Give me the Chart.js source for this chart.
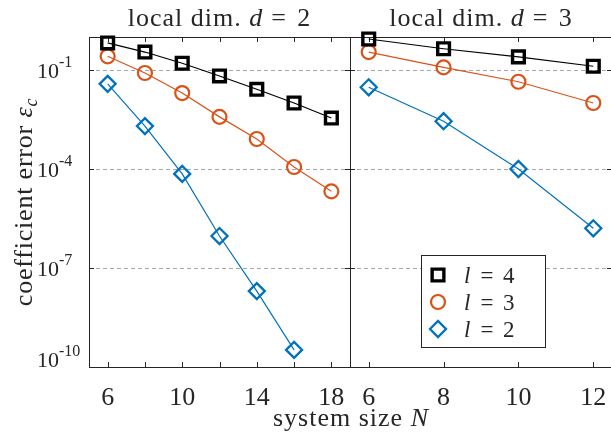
<!DOCTYPE html>
<html>
<head>
<meta charset="utf-8">
<script src="https://cdn.jsdelivr.net/npm/chart.js@4.4.0/dist/chart.umd.min.js"></script>
<style>
html, body { margin: 0; padding: 0; background: #fff; overflow: hidden; width: 611px; height: 434px; }
#wrap { position: relative; width: 611px; height: 434px; }
#c1 { position: absolute; left: 0; top: 0; }
#c2 { position: absolute; left: 350px; top: 0; }
#xl { position: absolute; left: 0; top: 405px; width: 702px; text-align: center;
      font: 26px "Liberation Serif", serif; color: #262626; letter-spacing: 1px; line-height: 26px; }
</style>
</head>
<body>
<div id="wrap">
  <canvas id="c1" width="351" height="434"></canvas>
  <canvas id="c2" width="270" height="434"></canvas>
  <div id="xl">system size <i>N</i></div>
</div>
<script>
// data
const sizesD2 = [6, 8, 10, 12, 14, 16, 18];
const sizesD3 = [6, 8, 10, 12];
const errD2L4 = [6.6e-1, 3.5e-1, 1.6e-1, 6.6e-2, 2.6e-2, 1.0e-2, 3.5e-3];
const errD2L3 = [2.6e-1, 8.1e-2, 2.0e-2, 3.8e-3, 8.1e-4, 1.15e-4, 2.1e-5];
const errD2L2 = [3.8e-2, 2.0e-3, 7.1e-5, 9.3e-7, 2.0e-8, 3.3e-10];
const errD3L4 = [8.7e-1, 4.4e-1, 2.5e-1, 1.3e-1];
const errD3L3 = [3.5e-1, 1.2e-1, 4.4e-2, 1.0e-2];
const errD3L2 = [3.0e-2, 2.8e-3, 1.0e-4, 1.6e-6];
const lValues = ['4', '3', '2'];
const localDims = ['2', '3'];
const yTickValues = [1e-10, 1e-7, 1e-4, 1e-1];
const yTickExps = ['-10', '-7', '-4', '-1'];
const xTicksD2 = [6, 8, 10, 12, 14, 16, 18];
const xLabelsD2 = [6, 10, 14, 18];
const xTicksD3 = [6, 8, 10, 12];
const xLabelsD3 = [6, 8, 10, 12];

// look
const AXIS = '#262626';
const FONT = '"Liberation Serif", serif';
const MARKS = [
  { color: '#000000', pointStyle: 'rect', radius: 8.3, width: 3.4 },
  { color: '#D95319', pointStyle: 'circle', radius: 7, width: 2.2 },
  { color: '#0072BD', pointStyle: 'rectRot', radius: 8, width: 2.3 }
];

function drawRich(ctx, parts, x, y, align) {
  let total = 0;
  parts.forEach(p => {
    ctx.font = (p.it ? 'italic ' : '') + p.size + 'px ' + FONT;
    p.w = ctx.measureText(p.t).width + (p.gap || 0);
    total += p.w;
  });
  let cx = align === 'center' ? x - total / 2 : x;
  parts.forEach(p => {
    ctx.font = (p.it ? 'italic ' : '') + p.size + 'px ' + FONT;
    ctx.fillText(p.t, cx, y + (p.dy || 0));
    cx += p.w;
  });
}

function marker(ctx, m, x, y) {
  ctx.save();
  ctx.strokeStyle = m.color;
  ctx.lineWidth = m.width;
  ctx.beginPath();
  if (m.pointStyle === 'rect') {
    const s = m.radius * Math.SQRT1_2;
    ctx.rect(x - s, y - s, 2 * s, 2 * s);
  } else if (m.pointStyle === 'circle') {
    ctx.arc(x, y, m.radius, 0, Math.PI * 2);
  } else {
    ctx.moveTo(x - m.radius, y);
    ctx.lineTo(x, y - m.radius);
    ctx.lineTo(x + m.radius, y);
    ctx.lineTo(x, y + m.radius);
    ctx.closePath();
  }
  ctx.stroke();
  ctx.restore();
}

// box + inward ticks + panel title
const framePlugin = {
  id: 'frame',
  beforeDatasetsDraw(chart) {
    const { ctx, chartArea: a, scales: { x, y } } = chart;
    ctx.save();
    ctx.strokeStyle = AXIS;
    ctx.lineWidth = 1;
    ctx.strokeRect(a.left + 0.5, a.top + 0.5, a.right - a.left, a.bottom - a.top);
    ctx.beginPath();
    x.ticks.forEach(t => {
      const px = Math.round(x.getPixelForValue(t.value)) + 0.5;
      ctx.moveTo(px, a.bottom); ctx.lineTo(px, a.bottom - 5);
      ctx.moveTo(px, a.top); ctx.lineTo(px, a.top + 5);
    });
    y.ticks.forEach(t => {
      const py = Math.round(y.getPixelForValue(t.value)) + 0.5;
      ctx.moveTo(a.left, py); ctx.lineTo(a.left + 5, py);
      ctx.moveTo(a.right, py); ctx.lineTo(a.right - 5, py);
    });
    ctx.stroke();
    ctx.restore();
  },
  afterDraw(chart) {
    const { ctx, chartArea: a } = chart;
    const o = chart.options.plugins.frame;
    ctx.save();
    ctx.fillStyle = AXIS;
    ctx.textBaseline = 'alphabetic';
    ctx.letterSpacing = '1px';
    drawRich(ctx, [
      { t: 'local dim. ', size: 26 },
      { t: 'd', it: true, size: 26, gap: 8 },
      { t: '= ', size: 26, gap: 3 },
      { t: o.dim, size: 26 }
    ], (a.left + a.right) / 2, 26, 'center');
    ctx.restore();
  }
};

// y tick labels with superscripts + y title (left panel only)
const yLabelPlugin = {
  id: 'ylabels',
  afterDraw(chart) {
    const { ctx, chartArea: a, scales: { y } } = chart;
    ctx.save();
    ctx.fillStyle = AXIS;
    ctx.textBaseline = 'alphabetic';
    y.ticks.forEach((t, i) => {
      const py = Math.min(y.getPixelForValue(t.value) + 8, a.bottom);
      ctx.font = '22px ' + FONT;
      ctx.fillText('10', 37, py);
      const w = ctx.measureText('10').width;
      ctx.font = '16px ' + FONT;
      ctx.fillText(yTickExps[i], 37 + w, py - 11);
    });
    ctx.translate(32, (a.top + a.bottom) / 2);
    ctx.rotate(-Math.PI / 2);
    ctx.letterSpacing = '0.8px';
    drawRich(ctx, [
      { t: 'coefficient error ', size: 26 },
      { t: 'ε', it: true, size: 26 },
      { t: 'c', it: true, size: 18, dy: 5 }
    ], 0, 0, 'center');
    ctx.restore();
  }
};

// legend box inside right panel
const legendPlugin = {
  id: 'boxLegend',
  afterDraw(chart) {
    const { ctx } = chart;
    const bx = 71, by = 255, bw = 124, bh = 92;
    ctx.save();
    ctx.fillStyle = '#ffffff';
    ctx.fillRect(bx, by, bw, bh);
    ctx.strokeStyle = AXIS;
    ctx.lineWidth = 1;
    ctx.strokeRect(bx + 0.5, by + 0.5, bw, bh);
    const rows = [275, 302, 329];
    lValues.forEach((l, i) => {
      marker(ctx, MARKS[i], 88, rows[i]);
      ctx.fillStyle = AXIS;
      ctx.font = 'italic 23px ' + FONT;
      ctx.fillText('l', 114, rows[i] + 8);
      ctx.font = '23px ' + FONT;
      ctx.textAlign = 'center';
      ctx.fillText('=', 137, rows[i] + 8);
      ctx.textAlign = 'left';
      ctx.fillText(l, 153, rows[i] + 8);
    });
    ctx.restore();
  }
};

function makeDatasets(xs, sets) {
  return sets.map((vals, i) => ({
    label: 'l = ' + lValues[i],
    data: vals.map((v, k) => ({ x: xs[k], y: v })),
    borderColor: MARKS[i].color,
    borderWidth: 1.2,
    pointStyle: MARKS[i].pointStyle,
    pointRadius: MARKS[i].radius,
    pointBorderWidth: MARKS[i].width,
    pointBorderColor: MARKS[i].color,
    pointBackgroundColor: 'rgba(0,0,0,0)',
    fill: false,
    tension: 0,
    clip: false
  }));
}

function panel(canvasId, xs, sets, xMin, xMax, xTicks, xLabels, dim, isLeft) {
  const extra = isLeft ? [yLabelPlugin] : [legendPlugin];
  return new Chart(document.getElementById(canvasId), {
    type: 'line',
    data: { datasets: makeDatasets(xs, sets) },
    plugins: [framePlugin].concat(extra),
    options: {
      responsive: false,
      animation: false,
      events: [],
      layout: { autoPadding: false, padding: { top: 37, right: isLeft ? 1 : 8, left: 0, bottom: 0 } },
      plugins: {
        legend: { display: false },
        tooltip: { enabled: false },
        frame: { dim: dim }
      },
      scales: {
        x: {
          type: 'linear',
          min: xMin,
          max: xMax,
          afterBuildTicks: s => { s.ticks = xTicks.map(v => ({ value: v })); },
          afterFit: s => { s.height = 67; s.paddingLeft = 0; s.paddingRight = 0; },
          grid: { display: false },
          border: { display: false },
          ticks: {
            autoSkip: false,
            maxRotation: 0,
            padding: 8,
            color: AXIS,
            font: { family: FONT, size: 26 },
            callback: v => xLabels.includes(v) ? String(v) : ''
          }
        },
        y: {
          type: 'logarithmic',
          min: 1e-10,
          max: 1,
          afterBuildTicks: s => { s.ticks = yTickValues.map(v => ({ value: v })); },
          afterFit: s => { s.width = isLeft ? 89 : 0; s.paddingTop = 0; s.paddingBottom = 0; },
          border: { display: false, dash: [4, 3] },
          grid: {
            drawTicks: false,
            lineWidth: 1,
            color: c => (c.tick && c.tick.value === 1e-10) ? 'rgba(0,0,0,0)' : '#a8a8a8'
          },
          ticks: { display: false }
        }
      }
    }
  });
}

panel('c1', sizesD2, [errD2L4, errD2L3, errD2L2], 5, 19, xTicksD2, xLabelsD2, localDims[0], true);
panel('c2', sizesD3, [errD3L4, errD3L3, errD3L2], 5.5, 12.5, xTicksD3, xLabelsD3, localDims[1], false);
</script>
</body>
</html>
